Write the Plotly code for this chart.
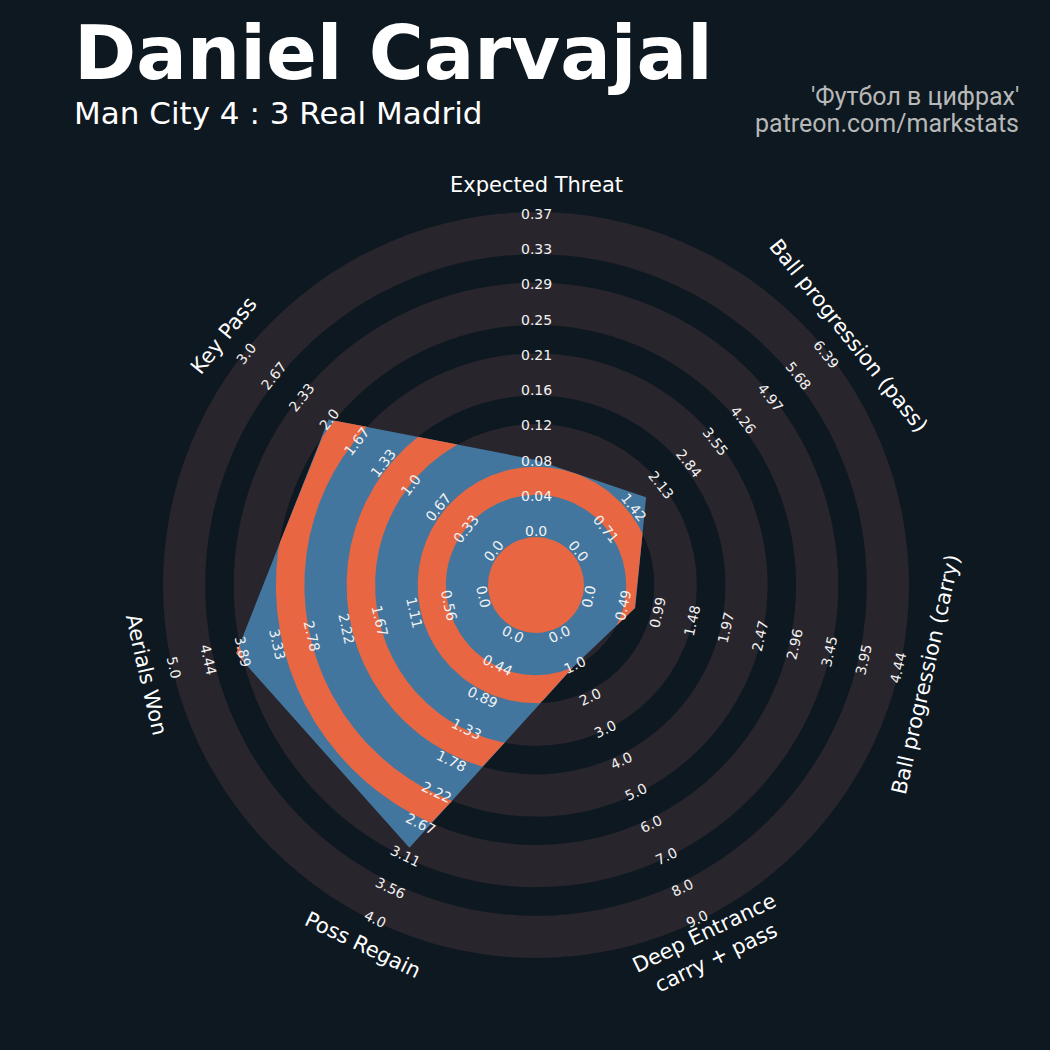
import numpy as np
import plotly.graph_objects as go

# --- data ---
params = ["Expected Threat", "Ball progression (pass)", "Ball progression (carry)",
          "Deep Entrance<br>carry + pass", "Poss Regain", "Aerials Won", "Key Pass"]
low = [0, 0, 0, 0, 0, 0, 0]
high = [0.37, 6.39, 4.44, 9.0, 4.0, 5.0, 3.0]
values = [0.083, 1.75, 0.67, 1.0, 3.0, 4.0, 2.0]

ticks_xt = ["0.0", "0.04", "0.08", "0.12", "0.16", "0.21", "0.25", "0.29", "0.33", "0.37"]
ticks_pass = ["0.0", "0.71", "1.42", "2.13", "2.84", "3.55", "4.26", "4.97", "5.68", "6.39"]
ticks_carry = ["0.0", "0.49", "0.99", "1.48", "1.97", "2.47", "2.96", "3.45", "3.95", "4.44"]
ticks_deep = ["0.0", "1.0", "2.0", "3.0", "4.0", "5.0", "6.0", "7.0", "8.0", "9.0"]
ticks_regain = ["0.0", "0.44", "0.89", "1.33", "1.78", "2.22", "2.67", "3.11", "3.56", "4.0"]
ticks_aerial = ["0.0", "0.56", "1.11", "1.67", "2.22", "2.78", "3.33", "3.89", "4.44", "5.0"]
ticks_key = ["0.0", "0.33", "0.67", "1.0", "1.33", "1.67", "2.0", "2.33", "2.67", "3.0"]
tick_labels = [ticks_xt, ticks_pass, ticks_carry, ticks_deep, ticks_regain, ticks_aerial, ticks_key]

title = "Daniel Carvajal"
subtitle = "Man City 4 : 3 Real Madrid"
credit_1 = "'Футбол в цифрах'"
credit_2 = "patreon.com/markstats"

# colours
bg_color = "#0e1821"
ring_color = "#28252c"
radar_color = "#42769f"
ring_fill = "#e86742"

# geometry: 1 data unit = 1 px, origin at radar centre
cx, cy = 536, 585
edges = [48, 90.2, 118.3, 160.9, 189.4, 231.6, 260.1, 302.3, 330.8, 373]
r_lo, r_hi = 54, 371
label_r = 400

n = len(params)
phi = np.arange(n) * 2 * np.pi / n  # clockwise from top


def scale(v, lo, hi):
    return r_lo + (v - lo) / (hi - lo) * (r_hi - r_lo)


def text_angle(rad):
    d = np.degrees(rad) % 360
    if 90 < d < 270:
        d -= 180
    elif d >= 270:
        d -= 360
    return d


radii = np.array([scale(v, lo, hi) for v, lo, hi in zip(values, low, high)])
px = radii * np.sin(phi)
py = radii * np.cos(phi)

fig = go.Figure()

# --- background rings (outer to inner) ---
shapes = []
for i in range(len(edges) - 1, -1, -1):
    r = edges[i]
    shapes.append(dict(type="circle", xref="x", yref="y", x0=-r, y0=-r, x1=r, y1=r,
                       fillcolor=ring_color if i % 2 == 1 else bg_color,
                       line=dict(width=0), layer="below"))

# --- radar polygon ---
fig.add_trace(go.Scatter(x=np.append(px, px[0]), y=np.append(py, py[0]), mode="lines",
                         fill="toself", fillcolor=radar_color,
                         line=dict(width=0, color=radar_color),
                         hoverinfo="skip", showlegend=False))

# polygon boundary radius as a function of angle
n_theta = 2800
theta = np.arange(n_theta) * 2 * np.pi / n_theta
seg = np.minimum((theta // (2 * np.pi / n)).astype(int), n - 1)
ax_, ay_ = px[seg], py[seg]
ex = px[(seg + 1) % n] - ax_
ey = py[(seg + 1) % n] - ay_
dx, dy = np.sin(theta), np.cos(theta)
edge_r = (ax_ * ey - ay_ * ex) / (dx * ey - dy * ex)


def add_piece(idx, a, b):
    outer = np.clip(edge_r[idx], a, b)
    xs = np.concatenate([outer * dx[idx], a * dx[idx][::-1]])
    ys = np.concatenate([outer * dy[idx], a * dy[idx][::-1]])
    fig.add_trace(go.Scatter(x=xs, y=ys, mode="lines", fill="toself", fillcolor=ring_fill,
                             line=dict(width=0, color=ring_fill),
                             hoverinfo="skip", showlegend=False))


# orange bands clipped to the polygon
bands = [(0, edges[0])] + [(edges[k], edges[k + 1]) for k in (1, 3, 5, 7)]
for a, b in bands:
    inside = edge_r > a + 0.05
    if not inside.any():
        continue
    if inside.all():
        idx = np.append(np.arange(n_theta), 0)
        add_piece(idx, a, b)
        continue
    start = int(np.argmin(inside))  # an index outside the polygon
    order = np.roll(np.arange(n_theta), -start)
    run = []
    for j in list(order) + [order[0]]:
        if inside[j]:
            run.append(j)
        elif run:
            # extend one step each side so the piece reaches the polygon edge
            first = (run[0] - 1) % n_theta
            last = (run[-1] + 1) % n_theta
            add_piece(np.array([first] + run + [last]), a, b)
            run = []

annotations = []
# --- parameter labels and ring labels ---
for i in range(n):
    ang = text_angle(phi[i])
    annotations.append(dict(x=label_r * np.sin(phi[i]), y=label_r * np.cos(phi[i]),
                            text=params[i], showarrow=False, textangle=ang,
                            xanchor="center", yanchor="middle",
                            font=dict(family="DejaVu Sans", size=21, color="white")))
    labels = tick_labels[i]
    for k, lab in enumerate(labels):
        r = r_lo + k / (len(labels) - 1) * (r_hi - r_lo)
        annotations.append(dict(x=r * np.sin(phi[i]), y=r * np.cos(phi[i]),
                                text=lab, showarrow=False, textangle=ang,
                                xanchor="center", yanchor="middle",
                                font=dict(family="DejaVu Sans", size=14, color="#f2f2f2")))

# --- header ---
annotations.append(dict(x=72 - cx, y=cy - 6.5, text="<b>" + title + "</b>", showarrow=False,
                        xanchor="left", yanchor="top",
                        font=dict(family="DejaVu Sans", size=75, color="white")))
annotations.append(dict(x=72 - cx, y=cy - 93, text=subtitle, showarrow=False,
                        xanchor="left", yanchor="top",
                        font=dict(family="DejaVu Sans", size=31, color="white")))
annotations.append(dict(x=1021 - cx, y=cy - 80, text=credit_1, showarrow=False,
                        xanchor="right", yanchor="top",
                        font=dict(family="Roboto", size=25, color="#b8b8b8")))
annotations.append(dict(x=1021 - cx, y=cy - 107, text=credit_2, showarrow=False,
                        xanchor="right", yanchor="top",
                        font=dict(family="Roboto", size=25, color="#b8b8b8")))

fig.update_layout(
    width=1050, height=1050,
    margin=dict(l=0, r=0, t=0, b=0),
    paper_bgcolor=bg_color, plot_bgcolor=bg_color,
    showlegend=False,
    shapes=shapes,
    annotations=annotations,
    xaxis=dict(range=[-cx, 1050 - cx], visible=False, showgrid=False, zeroline=False, fixedrange=True),
    yaxis=dict(range=[cy - 1050, cy], visible=False, showgrid=False, zeroline=False, fixedrange=True),
)

fig.write_html("out.html", config={"displayModeBar": False},
               post_script="document.body.style.margin='0px';"
                           "document.body.style.background='" + bg_color + "';")
